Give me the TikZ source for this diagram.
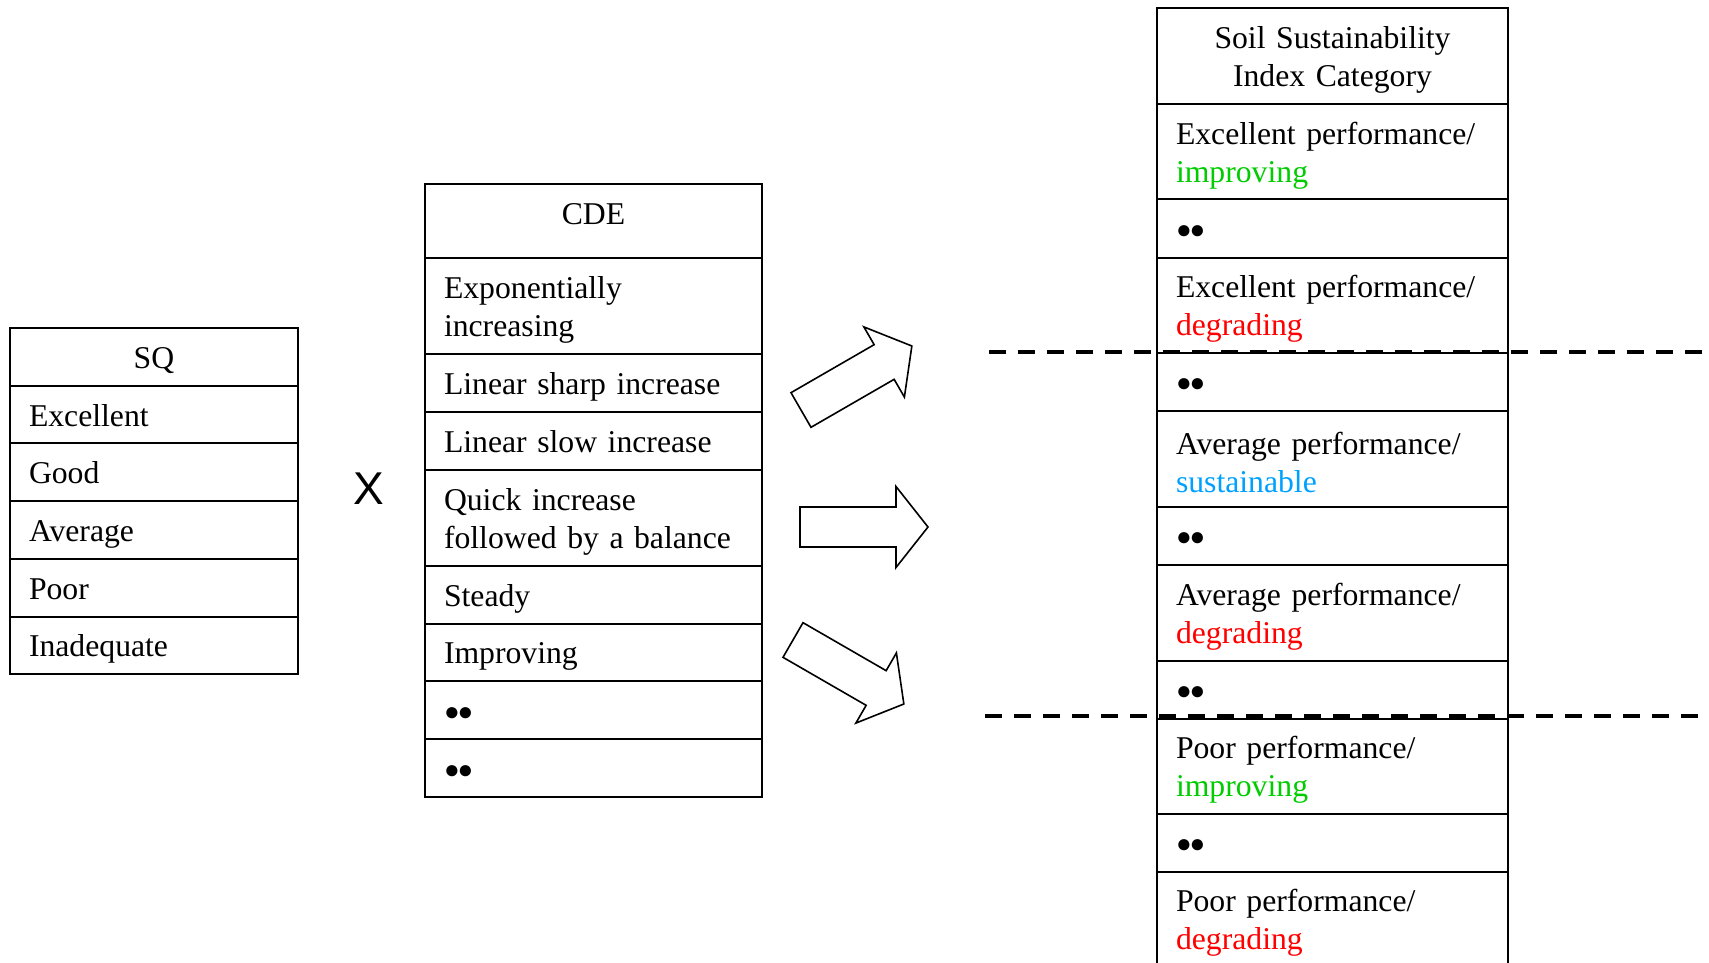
\documentclass[tikz,border=0pt]{standalone}
\usepackage{fontspec}
\setmainfont{Liberation Serif}
\newfontfamily\crossfont{Liberation Sans}
\definecolor{upgreen}{RGB}{0,204,0}
\definecolor{downred}{RGB}{255,0,0}
\definecolor{sustblue}{RGB}{0,160,255}
\newcommand{\twodots}{\raisebox{1.5pt}{\fontsize{26}{26}\selectfont ●\kern-2pt●}}
\begin{document}
\begin{tikzpicture}[x=1pt, y=-1pt,
        cell/.style={draw, line width=2pt, anchor=north west, inner xsep=19pt, inner ysep=0pt,
            align=left, font=\fontsize{31.7}{38}\selectfont,
            execute at begin node={\rule{0pt}{30pt}}},
        oneline/.style={text depth=7pt},
        sqcell/.style={cell, oneline, text width=250pt, minimum height=57.7pt},
        cdecell/.style={cell, text width=299pt},
        ssicell/.style={cell, text width=313pt},
        blockarrow/.style={draw, line width=1.6pt, fill=white},
        divider/.style={line width=4pt, dash pattern=on 17pt off 12pt}
    ]
    \useasboundingbox (0,0) rectangle (1709,963);
    % SQ table
    \node[sqcell, align=center] (sq) at (9,327) {SQ};
    \foreach \t [count=\i] in {Excellent, Good, Average, Poor, Inadequate}
        \node[sqcell] (sq\i) at (9,{327+57.7*\i}) {\t};
    % times sign
    \node[font=\crossfont\fontsize{46}{46}\selectfont] (times) at (369,489) {X};
    % CDE table
    \node[cdecell, align=center, minimum height=74pt, text depth=23pt] (cde) at (424,183) {CDE};
    \node[cdecell, minimum height=96pt] (cde1) at (424,257) {Exponentially\\increasing};
    \node[cdecell, oneline, minimum height=58pt] (cde2) at (424,353) {Linear sharp increase};
    \node[cdecell, oneline, minimum height=58pt] (cde3) at (424,411) {Linear slow increase};
    \node[cdecell, minimum height=96pt] (cde4) at (424,469) {Quick increase\\followed by a balance};
    \node[cdecell, oneline, minimum height=57.5pt] (cde5) at (424,565) {Steady};
    \node[cdecell, oneline, minimum height=57.5pt] (cde6) at (424,622.5) {Improving};
    \node[cdecell, oneline, minimum height=58pt] (cde7) at (424,680) {\twodots};
    \node[cdecell, oneline, minimum height=58pt] (cde8) at (424,738) {\twodots};
    % block arrows
    \draw[blockarrow, shift={(801,410)}, rotate=30]
        (0,-20) -- (96,-20) -- (96,-40.5) -- (128,0) -- (96,40.5) -- (96,20) -- (0,20) -- cycle;
    \draw[blockarrow, shift={(800,527)}]
        (0,-20) -- (96,-20) -- (96,-40.5) -- (128,0) -- (96,40.5) -- (96,20) -- (0,20) -- cycle;
    \draw[blockarrow, shift={(793,640)}, rotate=-30]
        (0,-20) -- (96,-20) -- (96,-40.5) -- (128,0) -- (96,40.5) -- (96,20) -- (0,20) -- cycle;
    % SSI table
    \node[ssicell, align=center, minimum height=95.5pt] (ssi) at (1156,7.5) {Soil Sustainability\\Index Category};
    \node[ssicell, minimum height=95pt] (ssi1) at (1156,103) {Excellent performance/\\\textcolor{upgreen}{improving}};
    \node[ssicell, oneline, minimum height=58.5pt] (ssi2) at (1156,198) {\twodots};
    \node[ssicell, minimum height=95pt] (ssi3) at (1156,256.5) {Excellent performance/\\\textcolor{downred}{degrading}};
    \node[ssicell, oneline, minimum height=58pt] (ssi4) at (1156,351.5) {\twodots};
    \node[ssicell, minimum height=96pt] (ssi5) at (1156,409.5) {Average performance/\\\textcolor{sustblue}{sustainable}};
    \node[ssicell, oneline, minimum height=58pt] (ssi6) at (1156,505.5) {\twodots};
    \node[ssicell, minimum height=96pt] (ssi7) at (1156,563.5) {Average performance/\\\textcolor{downred}{degrading}};
    \node[ssicell, oneline, minimum height=58pt] (ssi8) at (1156,659.5) {\twodots};
    \node[ssicell, minimum height=95pt] (ssi9) at (1156,717.5) {Poor performance/\\\textcolor{upgreen}{improving}};
    \node[ssicell, oneline, minimum height=58pt] (ssi10) at (1156,812.5) {\twodots};
    \node[ssicell, minimum height=95pt] (ssi11) at (1156,870.5) {Poor performance/\\\textcolor{downred}{degrading}};
    % dashed dividers
    \coordinate (cutA) at (989,352);
    \coordinate (cutB) at (1709,352);
    \coordinate (cutC) at (985,716);
    \coordinate (cutD) at (1700,716);
    \draw[divider] (cutA) -- (cutB);
    \draw[divider] (cutC) -- (cutD);
\end{tikzpicture}
\end{document}
